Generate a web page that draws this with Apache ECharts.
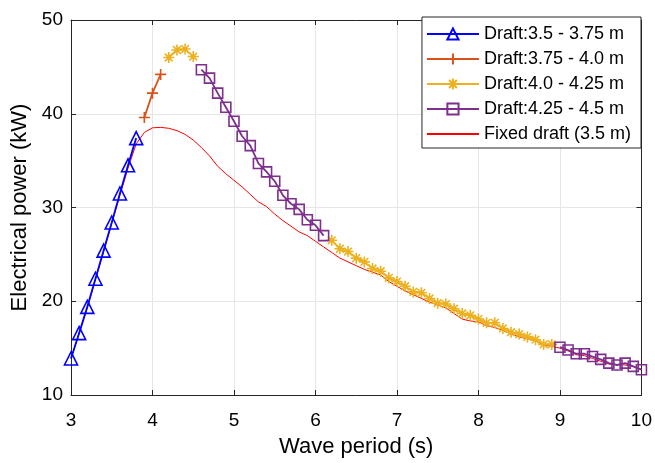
<!DOCTYPE html>
<html>
<head>
<meta charset="utf-8">
<script src="https://cdn.jsdelivr.net/npm/echarts@6/dist/echarts.min.js"></script>
<style>html,body{margin:0;padding:0;background:#fff}#c{width:655px;height:463px}</style>
</head>
<body>
<div id="c"></div>
<script>
// ---- data ----
const blueX = [3.0, 3.1, 3.2, 3.3, 3.4, 3.5, 3.6, 3.7, 3.8];
const blueY = [13.9, 16.6, 19.4, 22.4, 25.4, 28.4, 31.5, 34.5, 37.4];

const orangeX = [3.9, 4.0, 4.1];
const orangeY = [39.6, 42.2, 44.2];

const yellowX1 = [4.2, 4.3, 4.4, 4.5];
const yellowY1 = [46.0, 46.8, 46.9, 46.1];
const yellowX2 = [6.2, 6.3, 6.4, 6.5, 6.6, 6.7, 6.8, 6.9, 7.0, 7.1, 7.2, 7.3, 7.4, 7.5, 7.6, 7.7, 7.8, 7.9, 8.0, 8.1, 8.2, 8.3, 8.4, 8.5, 8.6, 8.7, 8.8, 8.9];
const yellowY2 = [26.5, 25.6, 25.3, 24.6, 24.2, 23.5, 23.2, 22.5, 22.1, 21.6, 21.0, 20.9, 20.3, 19.8, 19.7, 19.2, 18.7, 18.5, 18.1, 17.7, 17.7, 17.1, 16.7, 16.5, 16.2, 15.9, 15.4, 15.4];

const purpleX1 = [4.6, 4.7, 4.8, 4.9, 5.0, 5.1, 5.2, 5.3, 5.4, 5.5, 5.6, 5.7, 5.8, 5.9, 6.0, 6.1];
const purpleY1 = [44.7, 43.8, 42.2, 40.7, 39.2, 37.6, 36.6, 34.7, 33.8, 32.8, 31.3, 30.4, 29.8, 28.7, 28.1, 27.0];
const purpleX2 = [9.0, 9.1, 9.2, 9.3, 9.4, 9.5, 9.6, 9.7, 9.8, 9.9, 10.0];
const purpleY2 = [15.1, 14.8, 14.4, 14.4, 14.1, 13.8, 13.4, 13.2, 13.4, 13.05, 12.7];

const fixedX = [3.0, 3.1, 3.2, 3.3, 3.4, 3.5, 3.6, 3.7, 3.8, 3.9, 4.0, 4.1, 4.2, 4.3, 4.4, 4.5, 4.6, 4.7, 4.8, 4.9,
  5.0, 5.1, 5.2, 5.3, 5.4, 5.5, 5.6, 5.7, 5.8, 5.9, 6.0, 6.1, 6.2, 6.3, 6.4, 6.5, 6.6, 6.7, 6.8, 6.9,
  7.0, 7.1, 7.2, 7.3, 7.4, 7.5, 7.6, 7.7, 7.8, 7.9, 8.0, 8.1, 8.2, 8.3, 8.4, 8.5, 8.6, 8.7, 8.8, 8.9,
  9.0, 9.1, 9.2, 9.3, 9.4, 9.5, 9.6, 9.7, 9.8, 9.9, 10.0];
const fixedY = [13.9, 16.6, 19.3, 22.3, 25.3, 28.3, 31.3, 34.2, 36.8, 38.0, 38.5, 38.55, 38.45, 38.2, 37.8, 37.2, 36.4, 35.5, 34.4, 33.6,
  32.9, 32.2, 31.4, 30.6, 30.1, 29.3, 28.6, 28.0, 27.4, 27.0, 26.4, 25.8, 25.2, 24.6, 24.2, 23.8, 23.4, 23.1, 22.8, 22.1,
  21.6, 21.1, 20.7, 20.3, 19.9, 19.6, 19.3, 18.7, 18.1, 17.9, 17.8, 17.4, 17.2, 16.9, 16.5, 16.2, 16.0, 15.8, 15.3, 15.2,
  15.0, 14.7, 14.3, 14.2, 13.9, 13.6, 13.3, 13.25, 13.2, 13.05, 12.75];

const xTicks = [3, 4, 5, 6, 7, 8, 9, 10];
const yTicks = [10, 20, 30, 40, 50];

const names = ['Draft:3.5 - 3.75 m', 'Draft:3.75 - 4.0 m', 'Draft:4.0 - 4.25 m', 'Draft:4.25 - 4.5 m', 'Fixed draft (3.5 m)'];

// ---- helpers ----
const zip = (xs, ys) => xs.map((x, i) => [x, ys[i]]);
const gapJoin = (a, b) => a.concat([[(a[a.length - 1][0] + b[0][0]) / 2, null]], b);

const FONT = 'Liberation Sans';
const plusPath = 'path://M0,-10L0,10M-10,0L10,0';
const starPath = 'path://M0,-10L0,10M-10,0L10,0M-7,-7L7,7M-7,7L7,-7';

const chart = echarts.init(document.getElementById('c'), null, {renderer: 'canvas'});

function mkSeries(name, data, color, symbol, size, lw, bw) {
  return {
    name, type: 'line', data, symbol, symbolSize: size, showSymbol: symbol !== 'none',
    connectNulls: false, animation: false, z: 3,
    lineStyle: {color, width: lw},
    itemStyle: {color: 'rgba(0,0,0,0)', borderColor: color, borderWidth: bw},
    emphasis: {disabled: true}
  };
}

const axisCommon = {
  axisLine: {show: true, onZero: false, lineStyle: {color: '#262626', width: 1}},
  axisTick: {show: true, inside: true, length: 5, lineStyle: {color: '#262626'}},
};

chart.setOption({
  backgroundColor: '#fff',
  animation: false,
  grid: {left: 71, right: 12, top: 20, bottom: 64, containLabel: false},
  legend: {
    data: names,
    orient: 'vertical',
    right: 14, top: 17,
    backgroundColor: '#fff',
    borderColor: '#262626', borderWidth: 1,
    padding: [8, 10, 5, 4],
    itemWidth: 52, itemHeight: 14, itemGap: 7,
    textStyle: {fontFamily: FONT, fontSize: 18, lineHeight: 18, color: '#000'},
    selectedMode: false
  },
  xAxis: [
    Object.assign({}, axisCommon, {
      type: 'value', min: 3, max: 10, interval: 1, position: 'bottom',
      name: 'Wave period (s)', nameLocation: 'middle', nameGap: 41,
      nameTextStyle: {fontFamily: FONT, fontSize: 22, color: '#000'},
      axisLabel: {fontFamily: FONT, fontSize: 19, color: '#000', margin: 16,
        formatter: v => xTicks.includes(v) ? String(v) : ''},
      splitLine: {show: true, lineStyle: {color: '#e6e6e6', width: 1}}
    }),
    Object.assign({}, axisCommon, {
      type: 'value', min: 3, max: 10, interval: 1, position: 'top',
      axisLabel: {show: false}, splitLine: {show: false}
    })
  ],
  yAxis: [
    Object.assign({}, axisCommon, {
      type: 'value', min: 10, max: 50, interval: 10, position: 'left',
      name: 'Electrical power (kW)', nameLocation: 'middle', nameGap: 36,
      nameTextStyle: {fontFamily: FONT, fontSize: 22, color: '#000'},
      axisLabel: {fontFamily: FONT, fontSize: 19, color: '#000', margin: 8,
        formatter: v => yTicks.includes(v) ? String(v) : ''},
      splitLine: {show: true, lineStyle: {color: '#e6e6e6', width: 1}}
    }),
    Object.assign({}, axisCommon, {
      type: 'value', min: 10, max: 50, interval: 10, position: 'right',
      axisLabel: {show: false}, splitLine: {show: false}
    })
  ],
  series: [
    mkSeries(names[0], zip(blueX, blueY), '#0000ff', 'triangle', 13, 1.8, 1.6),
    mkSeries(names[1], zip(orangeX, orangeY), '#D95319', plusPath, 11, 1.8, 1.6),
    mkSeries(names[2], gapJoin(zip(yellowX1, yellowY1), zip(yellowX2, yellowY2)), '#EDB120', starPath, 11, 1.8, 1.6),
    mkSeries(names[3], gapJoin(zip(purpleX1, purpleY1), zip(purpleX2, purpleY2)), '#7E2F8E', 'rect', 10, 1.8, 1.6),
    Object.assign(mkSeries(names[4], zip(fixedX, fixedY), '#ff0000', 'none', 0, 1, 0), {z: 2})
  ]
});
</script>
</body>
</html>
